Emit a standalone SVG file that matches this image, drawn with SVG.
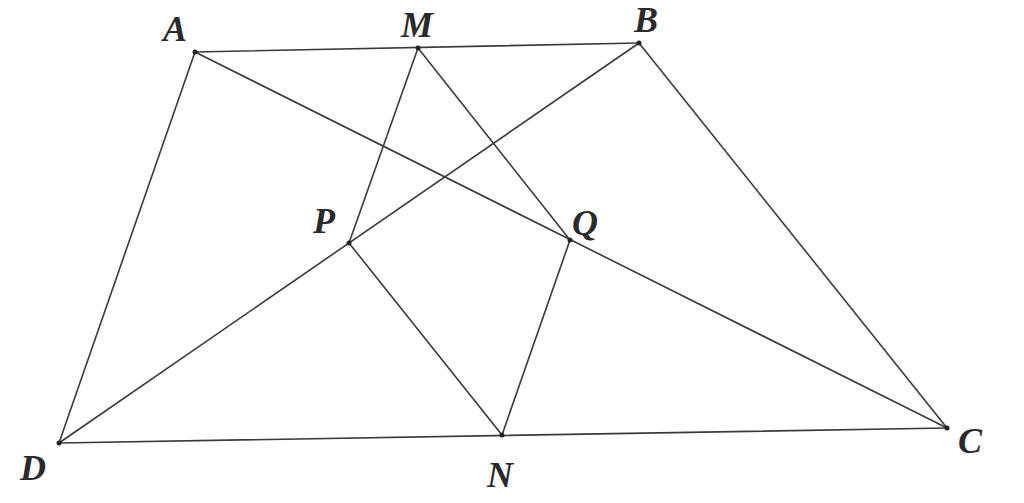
<svg xmlns="http://www.w3.org/2000/svg" width="1024" height="503" viewBox="0 0 1024 503">
<style>
.l{stroke:#3a3a3a;stroke-width:1.6;fill:none;stroke-linecap:round}
.d{fill:#222}
.t{font-family:"Liberation Serif",serif;font-style:italic;font-weight:bold;font-size:36px;fill:#2a2a2a;text-anchor:middle}
</style>
<rect width="1024" height="503" fill="#fff"/>
<g id="connectors">
<line class="l" x1="195" y1="52" x2="639" y2="43"/>
<line class="l" x1="639" y1="43" x2="947" y2="428"/>
<line class="l" x1="947" y1="428" x2="59" y2="443"/>
<line class="l" x1="59" y1="443" x2="195" y2="52"/>
<line class="l" x1="195" y1="52" x2="947" y2="428"/>
<line class="l" x1="639" y1="43" x2="59" y2="443"/>
<line class="l" x1="418" y1="48" x2="349" y2="243"/>
<line class="l" x1="418" y1="48" x2="570" y2="240"/>
<line class="l" x1="349" y1="243" x2="502" y2="435"/>
<line class="l" x1="570" y1="240" x2="502" y2="435"/>
</g>
<g id="A"><circle class="d" cx="195" cy="52" r="2.5"/><text class="t" x="175" y="41">A</text></g>
<g id="M"><circle class="d" cx="418" cy="48" r="2.5"/><text class="t" x="417" y="37">M</text></g>
<g id="B"><circle class="d" cx="639" cy="43" r="2.5"/><text class="t" x="646" y="32">B</text></g>
<g id="P"><circle class="d" cx="349" cy="243" r="2.5"/><text class="t" x="324" y="233">P</text></g>
<g id="Q"><circle class="d" cx="570" cy="240" r="2.5"/><text class="t" x="585" y="235">Q</text></g>
<g id="D"><circle class="d" cx="59" cy="443" r="2.5"/><text class="t" x="33" y="480">D</text></g>
<g id="N"><circle class="d" cx="502" cy="435" r="2.5"/><text class="t" x="500" y="487">N</text></g>
<g id="C"><circle class="d" cx="947" cy="428" r="2.5"/><text class="t" x="970" y="453">C</text></g>
</svg>
